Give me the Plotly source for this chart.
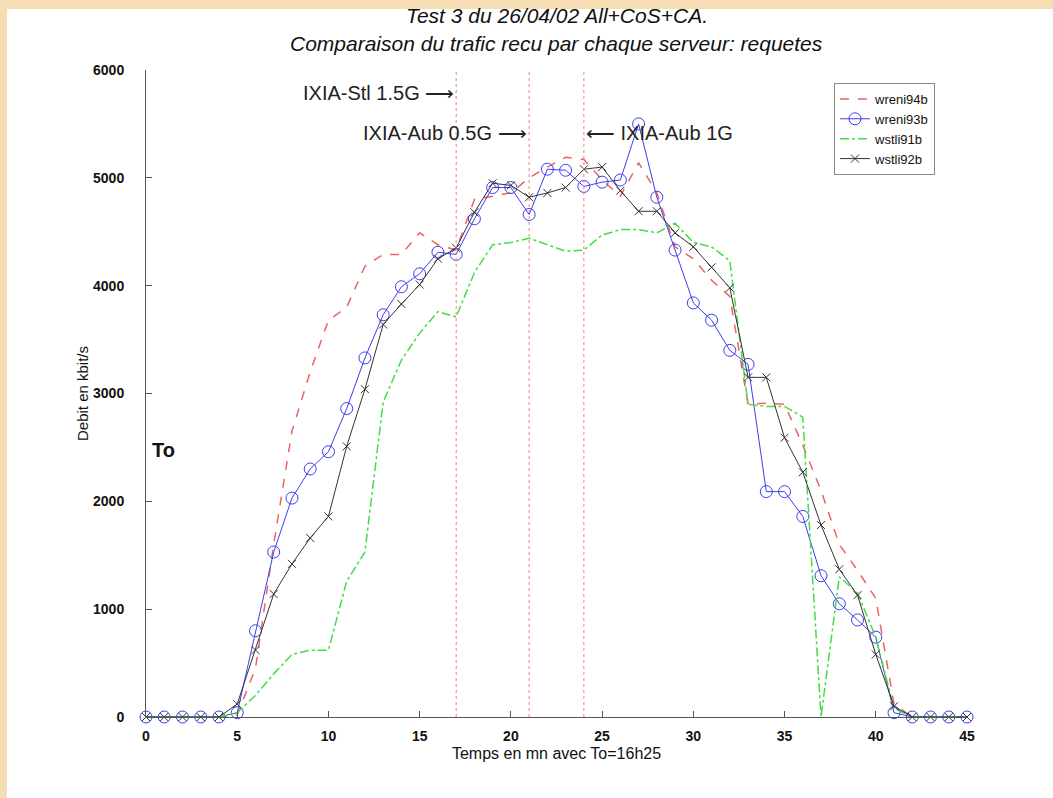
import plotly.graph_objects as go

minutes = list(range(46))

wreni94b = [0, 0, 0, 0, 0, 20, 450, 1600, 2650, 3200, 3680, 3800, 4180, 4290, 4290, 4490,
            4380, 4330, 4800, 4830, 4860, 5000, 5100, 5190, 5170, 4980, 4830, 5140, 4860, 4360,
            4250, 4050, 3900, 2900, 2910, 2900, 2520, 2100, 1600, 1360, 1100, 120, 0, 0, 0, 0]
wreni93b = [0, 0, 0, 0, 0, 40, 800, 1530, 2030, 2300, 2460, 2860, 3330, 3730, 3990, 4110,
            4310, 4290, 4620, 4910, 4910, 4660, 5080, 5070, 4920, 4960, 4980, 5500, 4820, 4330,
            3840, 3680, 3400, 3270, 2090, 2090, 1860, 1310, 1050, 900, 740, 40, 0, 0, 0, 0]
wstli91b = [0, 0, 0, 0, 0, 40, 200, 400, 580, 620, 620, 1260, 1530, 2920, 3310, 3560,
            3760, 3710, 4120, 4380, 4400, 4440, 4380, 4320, 4330, 4470, 4520, 4520, 4490, 4580,
            4400, 4360, 4230, 2900, 2880, 2880, 2780, 0, 1300, 1150, 740, 80, 0, 0, 0, 0]
wstli92b = [0, 0, 0, 0, 0, 120, 620, 1140, 1420, 1660, 1860, 2510, 3040, 3640, 3830, 4010,
            4250, 4350, 4680, 4950, 4930, 4820, 4860, 4910, 5080, 5100, 4880, 4690, 4690, 4490,
            4360, 4170, 3980, 3150, 3150, 2590, 2270, 1780, 1370, 1130, 580, 100, 0, 0, 0, 0]

event_minutes = [17, 21, 24]
event_labels = ["IXIA-Stl 1.5G \u27f6", "IXIA-Aub 0.5G \u27f6", "\u27f5 IXIA-Aub 1G"]
event_levels = [5790, 5420, 5420]
event_anchor = ["right", "right", "left"]

title_lines = ["Test 3 du 26/04/02 All+CoS+CA.",
               "Comparaison du trafic recu par chaque serveur: requetes"]

fig = go.Figure()
fig.add_trace(go.Scatter(name="wreni94b", x=minutes, y=wreni94b, mode="lines",
                         line=dict(color="#ec6460", width=1.5, dash="dash"),
                         cliponaxis=False))
fig.add_trace(go.Scatter(name="wreni93b", x=minutes, y=wreni93b, mode="lines+markers",
                         line=dict(color="#3d3df0", width=1),
                         marker=dict(symbol="circle-open", size=12, color="#3d3df0",
                                     line=dict(width=1)),
                         cliponaxis=False))
fig.add_trace(go.Scatter(name="wstli91b", x=minutes, y=wstli91b, mode="lines",
                         line=dict(color="#45dc45", width=1.5, dash="dashdot"),
                         cliponaxis=False))
fig.add_trace(go.Scatter(name="wstli92b", x=minutes, y=wstli92b, mode="lines+markers",
                         line=dict(color="#333333", width=1),
                         marker=dict(symbol="x-thin-open", size=8, color="#333333",
                                     line=dict(width=1, color="#333333")),
                         cliponaxis=False))

for m in event_minutes:
    fig.add_vline(x=m, line=dict(color="#f08080", width=1, dash="dot"))

for m, txt, lvl, anc in zip(event_minutes, event_labels, event_levels, event_anchor):
    fig.add_annotation(x=m, y=lvl, text=txt, showarrow=False, xanchor=anc,
                       font=dict(size=20, color="#222"))

fig.add_annotation(x=0.2, y=2480, text="<b>To</b>", showarrow=False, xanchor="left",
                   font=dict(size=20, color="#111"))

# two-line italic title, placed line by line
for line, ypos in zip(title_lines, [1.0835, 1.0417]):
    fig.add_annotation(x=0.5, y=ypos, xref="paper", yref="paper", text="<i>" + line + "</i>",
                       showarrow=False, xanchor="center", yanchor="middle",
                       font=dict(size=21, color="#111"))

# white sheet on a wheat border
fig.add_shape(type="rect", xref="paper", yref="paper", x0=-0.1693, x1=1.2, y0=-0.2, y1=1.0943,
              fillcolor="white", line_width=0, layer="below")

fig.update_layout(
    width=1053, height=798,
    margin=dict(l=146, r=86, t=70, b=81),
    paper_bgcolor="#f5deb3", plot_bgcolor="white",
    font=dict(family="Liberation Sans, Arial", color="#111"),
    legend=dict(x=0.838, y=0.98, xanchor="left", yanchor="top", bgcolor="white",
                bordercolor="#888", borderwidth=1, font=dict(size=13), itemwidth=30,
                tracegroupgap=0),
    showlegend=True,
)
fig.update_xaxes(range=[0, 45], tickvals=[0, 5, 10, 15, 20, 25, 30, 35, 40, 45],
                 showgrid=False, zeroline=False, showline=True, linecolor="#555", linewidth=1,
                 ticks="inside", ticklen=6, tickcolor="#555",
                 tickfont=dict(size=14, family="Liberation Sans", weight="bold"),
                 ticklabelstandoff=6,
                 title=dict(text="Temps en mn avec To=16h25", font=dict(size=16), standoff=5))
fig.update_yaxes(range=[0, 6000], tickvals=[0, 1000, 2000, 3000, 4000, 5000, 6000],
                 showgrid=False, zeroline=False, showline=True, linecolor="#555", linewidth=1,
                 ticks="inside", ticklen=6, tickcolor="#555",
                 tickfont=dict(size=14, family="Liberation Sans", weight="bold"),
                 ticklabelstandoff=18,
                 title=dict(text="Debit en kbit/s", font=dict(size=15), standoff=0))

fig.write_html("out.html", config={"displayModeBar": False},
               post_script="document.body.style.margin='0';document.body.style.overflow='hidden';")
